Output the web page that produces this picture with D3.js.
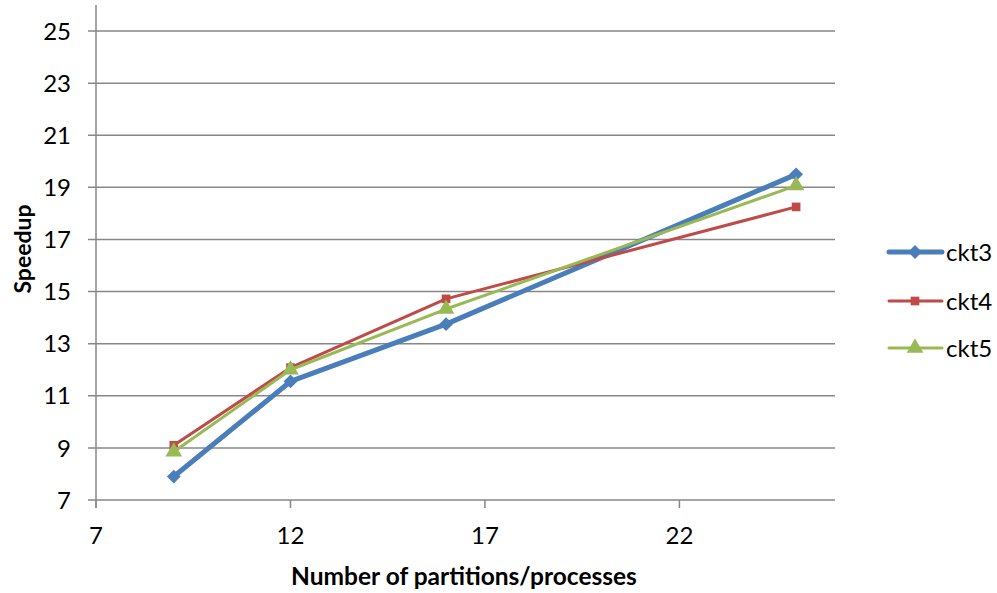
<!DOCTYPE html>
<html>
<head>
<meta charset="utf-8">
<script src="https://cdn.jsdelivr.net/npm/d3@7"></script>
<style>
  body { margin: 0; background: #fff; }
  text { font-family: Lato, Carlito, "Open Sans", sans-serif; fill: #000; }
</style>
</head>
<body>
<script>
// values
const partitions = [9, 12, 16, 25];
const ckt3 = [7.9, 11.55, 13.75, 19.5];
const ckt4 = [9.1, 12.08, 14.72, 18.25];
const ckt5 = [8.85, 12.0, 14.33, 19.07];
const seriesNames = ["ckt3", "ckt4", "ckt5"];
const xTicks = [7, 12, 17, 22];
const yTicks = [7, 9, 11, 13, 15, 17, 19, 21, 23, 25];

const W = 997, H = 593;
const svg = d3.select("body").append("svg")
    .attr("width", W)
    .attr("height", H);

const x = d3.scaleLinear().domain([7, 26]).range([96, 835]);
const y = d3.scaleLinear().domain([7, 26]).range([500, 5]);

const grid = "#878787";

// horizontal gridlines
svg.append("g").selectAll("line")
    .data(yTicks)
    .enter()
    .append("line")
    .attr("x1", 88)
    .attr("x2", x(26))
    .attr("y1", d => y(d))
    .attr("y2", d => y(d))
    .attr("stroke", grid)
    .attr("stroke-width", 1.5);

// y axis line
svg.append("line")
    .attr("x1", x(7)).attr("x2", x(7))
    .attr("y1", y(26)).attr("y2", y(7) + 8)
    .attr("stroke", grid).attr("stroke-width", 1.5);

// x tick marks
svg.append("g").selectAll("line")
    .data(xTicks)
    .enter()
    .append("line")
    .attr("x1", d => x(d)).attr("x2", d => x(d))
    .attr("y1", y(7)).attr("y2", y(7) + 8)
    .attr("stroke", grid).attr("stroke-width", 1.5);

// tick labels
svg.append("g").selectAll("text")
    .data(yTicks)
    .enter()
    .append("text")
    .attr("x", 71)
    .attr("y", d => y(d))
    .attr("dy", "0.36em")
    .attr("text-anchor", "end")
    .attr("font-size", 24)
    .text(d => d);

svg.append("g").selectAll("text")
    .data(xTicks)
    .enter()
    .append("text")
    .attr("x", d => x(d))
    .attr("y", 544)
    .attr("text-anchor", "middle")
    .attr("font-size", 24)
    .text(d => d);

// axis titles
svg.append("text")
    .attr("x", 464).attr("y", 585)
    .attr("text-anchor", "middle")
    .attr("font-size", 24.5)
    .attr("font-weight", "bold")
    .text("Number of partitions/processes");

svg.append("text")
    .attr("transform", "translate(31,249) rotate(-90)")
    .attr("text-anchor", "middle")
    .attr("font-size", 23)
    .attr("font-weight", "bold")
    .text("Speedup");

// diamond = square turned 45 degrees, like the reference marker
const series = [
  { name: seriesNames[0], values: ckt3, color: "#4a7ebb", width: 5, symbol: d3.symbolSquare, size: 95, rot: 45 },
  { name: seriesNames[1], values: ckt4, color: "#be4b48", width: 3, symbol: d3.symbolSquare, size: 75, rot: 0 },
  { name: seriesNames[2], values: ckt5, color: "#98b954", width: 3, symbol: d3.symbolTriangle, size: 120, rot: 0 }
];

const line = d3.line()
    .x((d, i) => x(partitions[i]))
    .y(d => y(d));

series.forEach(s => {
  svg.append("path")
      .datum(s.values)
      .attr("d", line)
      .attr("fill", "none")
      .attr("stroke", s.color)
      .attr("stroke-width", s.width)
      .attr("stroke-linejoin", "round");

  svg.append("g").selectAll("path")
      .data(s.values)
      .enter()
      .append("path")
      .attr("d", d3.symbol().type(s.symbol).size(s.size))
      .attr("transform", (d, i) => `translate(${x(partitions[i])},${y(d)}) rotate(${s.rot})`)
      .attr("fill", s.color);
});

// legend
const legendY = [252, 301, 348];
series.forEach((s, i) => {
  const g = svg.append("g").attr("transform", `translate(0,${legendY[i]})`);
  g.append("line")
      .attr("x1", 889).attr("x2", 942)
      .attr("stroke", s.color)
      .attr("stroke-width", s.width)
      .attr("stroke-linecap", "round");
  g.append("path")
      .attr("d", d3.symbol().type(s.symbol).size(s.size))
      .attr("transform", `translate(915,0) rotate(${s.rot})`)
      .attr("fill", s.color);
  g.append("text")
      .attr("x", 946)
      .attr("dy", "0.36em")
      .attr("font-size", 24)
      .text(s.name);
});
</script>
</body>
</html>
